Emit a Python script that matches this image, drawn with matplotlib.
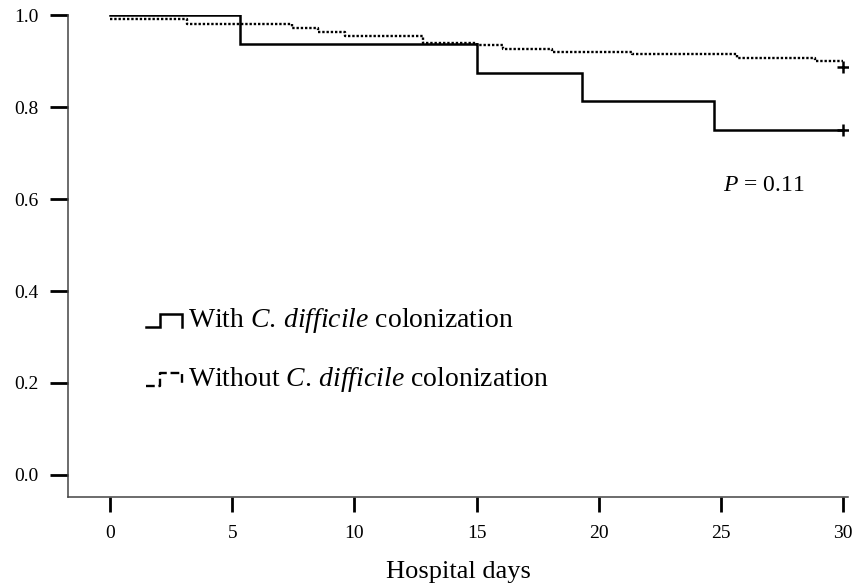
import numpy as np
import matplotlib
matplotlib.use('Agg')
import matplotlib.pyplot as plt
from matplotlib.lines import Line2D
from matplotlib.legend_handler import HandlerBase

# Kaplan-Meier curves
with_days = [0, 5.3, 15.0, 19.3, 24.7, 30]
with_surv = [1.0, 0.9375, 0.875, 0.8125, 0.75, 0.75]

without_days = [0, 3.15, 7.45, 8.5, 9.6, 12.8, 15.0, 16.1, 18.1, 21.35, 25.65, 28.85, 30]
without_surv = [0.992, 0.980, 0.973, 0.963, 0.955, 0.940, 0.935, 0.926, 0.920, 0.915,
                0.907, 0.901, 0.901]

censor_days = [30, 30]
censor_surv = [0.75, 0.888]

x_ticks = [0, 5, 10, 15, 20, 25, 30]
y_ticks = [0.0, 0.2, 0.4, 0.6, 0.8, 1.0]
labels = [r"With $\mathit{C.\,difficile}$ colonization",
          r"Without $\mathit{C.\,difficile}$ colonization"]

plt.rcParams['font.family'] = 'Liberation Serif'
plt.rcParams['mathtext.fontset'] = 'custom'
plt.rcParams['mathtext.rm'] = 'Liberation Serif'
plt.rcParams['mathtext.it'] = 'Liberation Serif:italic'


class StepHandler(HandlerBase):
    """Draws the little step symbol used in the legend."""
    def create_artists(self, legend, orig_handle, xdescent, ydescent,
                       width, height, fontsize, trans):
        hi = 0.47 * fontsize
        xs = [0, 0.4 * width, 0.4 * width, width, width]
        ys = [0, 0, hi, hi, 0]
        ln = Line2D(np.array(xs) - xdescent, np.array(ys) - ydescent,
                    color='black', lw=orig_handle.get_linewidth(),
                    linestyle=orig_handle.get_linestyle(),
                    solid_joinstyle='miter', transform=trans)
        return [ln]


fig = plt.figure(figsize=(8.54, 5.84), dpi=100)
ax = fig.add_axes([0.0796, 0.149, 0.9134, 0.825])

h1, = ax.step(with_days, with_surv, where='post', color='black', lw=1.8,
              solid_joinstyle='miter')
h2, = ax.step(without_days, without_surv, where='post', color='black', lw=1.7,
              linestyle=(0, (1, 0.8)))
ax.plot(censor_days, censor_surv, linestyle='none', marker='+', color='black',
        markersize=9, markeredgewidth=1.8)

ax.set_xlim(-1.72, 30.2)
ax.set_ylim(-0.048, 1.0)
ax.set_xticks(x_ticks)
ax.set_xticklabels([str(t) for t in x_ticks])
ax.set_yticks(y_ticks)
ax.set_yticklabels(["%.1f" % t for t in y_ticks])

for s in ['top', 'right']:
    ax.spines[s].set_visible(False)
for s in ['left', 'bottom']:
    ax.spines[s].set_color('#444444')
    ax.spines[s].set_linewidth(1.1)

ax.tick_params(axis='y', direction='out', length=13, width=2, pad=8, labelsize=14)
ax.tick_params(axis='x', direction='out', length=11, width=2, pad=9, labelsize=14)
ax.set_xlabel("Hospital days", fontsize=19, labelpad=14)

ax.text(0.84, 0.636, r"$P$ = 0.11", transform=ax.transAxes, fontsize=17,
        ha='left', va='baseline')

ax.legend([h1, h2], labels, handler_map={h1: StepHandler(), h2: StepHandler()},
          loc='center left', bbox_to_anchor=(0.1, 0.305), frameon=False,
          fontsize=20, handlelength=1.3, handletextpad=0.2, labelspacing=1.1,
          borderpad=0, borderaxespad=0)

fig.savefig('out.png', dpi=100)
